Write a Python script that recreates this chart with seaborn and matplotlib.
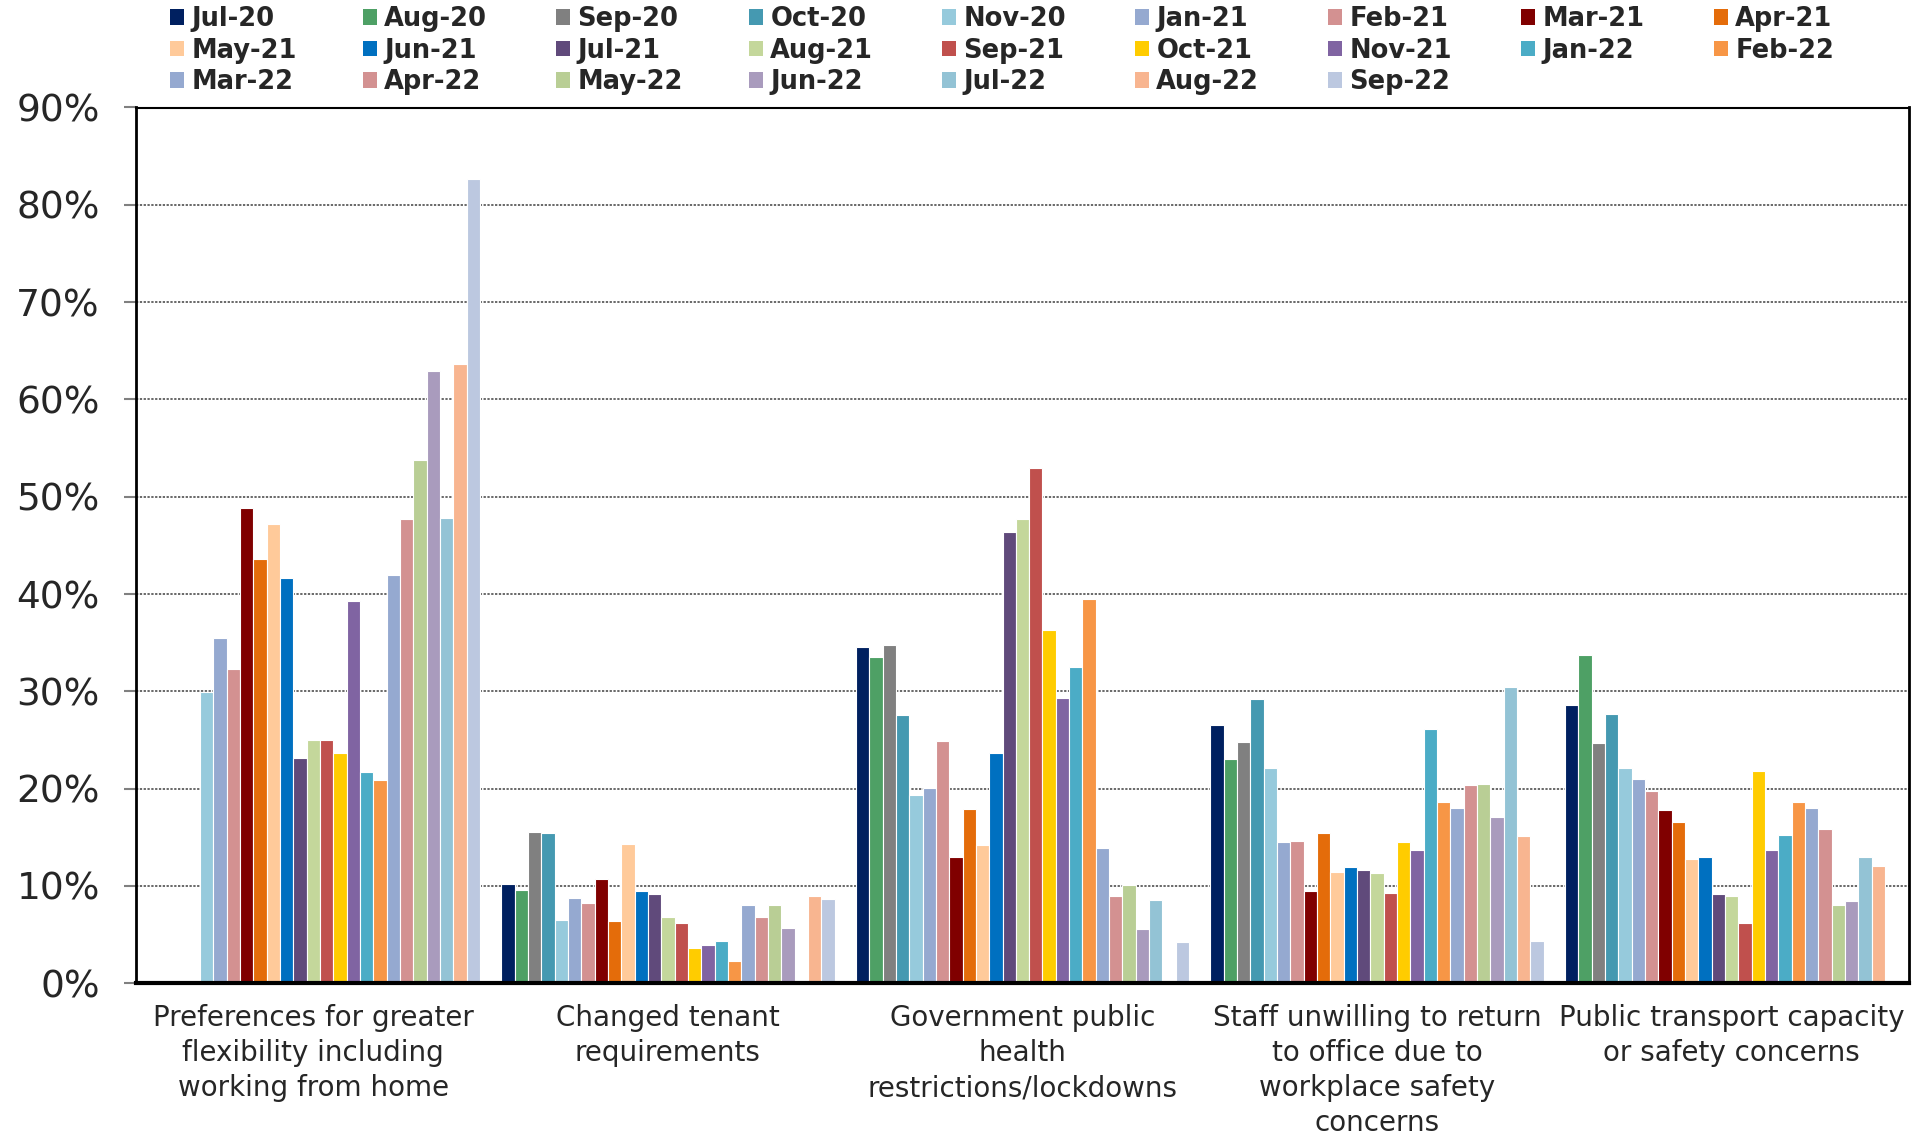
import numpy as np
import pandas as pd
import matplotlib
matplotlib.use("Agg")
import matplotlib.pyplot as plt
from matplotlib.patches import Patch
from matplotlib.ticker import FuncFormatter
import seaborn as sns

nan = np.nan

months = ["Jul-20", "Aug-20", "Sep-20", "Oct-20", "Nov-20", "Jan-21", "Feb-21", "Mar-21", "Apr-21",
          "May-21", "Jun-21", "Jul-21", "Aug-21", "Sep-21", "Oct-21", "Nov-21", "Jan-22", "Feb-22",
          "Mar-22", "Apr-22", "May-22", "Jun-22", "Jul-22", "Aug-22", "Sep-22"]

colors = ["#002060", "#4EA065", "#808080", "#4599B1", "#96CADC", "#95A9D0", "#D39191", "#800000",
          "#E46C0A", "#FFCA9A", "#0070C0", "#604A7B", "#C4D79B", "#C0504D", "#FFCC00", "#8064A2",
          "#4BACC6", "#F79646", "#95A9D0", "#D39191", "#B9CE95", "#A99BBD", "#93C3D5", "#F8B590",
          "#BCC8E0"]

categories = ["Preferences for greater\nflexibility including\nworking from home",
              "Changed tenant\nrequirements",
              "Government public\nhealth\nrestrictions/lockdowns",
              "Staff unwilling to return\nto office due to\nworkplace safety\nconcerns",
              "Public transport capacity\nor safety concerns"]

pref = [nan, nan, nan, nan, 29.9, 35.5, 32.3, 48.8, 43.6, 47.2, 41.6, 23.2, 25.0, 25.0, 23.7, 39.3,
        21.7, 20.9, 42.0, 47.7, 53.8, 62.9, 47.8, 63.6, 82.7]
tenant = [10.2, 9.6, 15.5, 15.4, 6.5, 8.8, 8.3, 10.7, 6.4, 14.3, 9.5, 9.2, 6.8, 6.2, 3.6, 3.9,
          4.3, 2.3, 8.0, 6.8, 8.0, 5.7, nan, 9.0, 8.7]
govt = [34.6, 33.5, 34.8, 27.6, 19.4, 20.1, 24.9, 13.0, 17.9, 14.2, 23.7, 46.4, 47.7, 53.0, 36.3,
        29.3, 32.5, 39.5, 13.9, 9.0, 10.1, 5.6, 8.6, nan, 4.2]
staff = [26.5, 23.0, 24.8, 29.2, 22.1, 14.5, 14.6, 9.5, 15.4, 11.4, 11.9, 11.6, 11.3, 9.3, 14.5,
         13.7, 26.1, 18.6, 18.0, 20.4, 20.5, 17.1, 30.4, 15.1, 4.3]
transport = [28.6, 33.7, 24.7, 27.7, 22.1, 21.0, 19.8, 17.8, 16.6, 12.8, 13.0, 9.2, 9.0, 6.2, 21.8,
             13.7, 15.2, 18.6, 18.0, 15.9, 8.0, 8.5, 13.0, 12.1, nan]

yticks = [0, 10, 20, 30, 40, 50, 60, 70, 80, 90]

rows = []
for cat, vals in zip(categories, [pref, tenant, govt, staff, transport]):
    for m, v in zip(months, vals):
        rows.append({"category": cat, "month": m, "value": v})
df = pd.DataFrame(rows)

sns.set_style("white")
plt.rcParams["font.family"] = ["DejaVu Sans"]

W, H = 1924, 1137
fig = plt.figure(figsize=(W / 100, H / 100), dpi=100)
ax = fig.add_axes([136 / W, 1 - 983.3 / H, (1909 - 136) / W, (983.3 - 107.5) / H])

sns.barplot(data=df, x="category", y="value", hue="month", order=categories, hue_order=months,
            palette=colors, width=0.94, gap=0, edgecolor="white", linewidth=0.8,
            errorbar=None, legend=False, ax=ax, saturation=1)

ax.set_xlim(-0.5, 4.5)
ax.set_ylim(0, 90)
ax.set_yticks(yticks)
ax.yaxis.set_major_formatter(FuncFormatter(lambda v, p: f"{v:.0f}%"))
ax.set_xlabel("")
ax.set_ylabel("")
ax.yaxis.grid(True, linestyle=(0, (1.5, 1)), color="#404040", linewidth=1.1)
ax.xaxis.grid(False)
ax.set_axisbelow(True)

ax.tick_params(axis="y", labelsize=27, length=9, width=1.5, color="#808080", pad=17,
               direction="out", left=True)
ax.tick_params(axis="x", labelsize=20, length=0, pad=15)
for lab in ax.get_xticklabels():
    lab.set_linespacing(1.32)
    lab.set_ha("center")

for side in ["left", "right", "top"]:
    ax.spines[side].set_color("black")
    ax.spines[side].set_linewidth(2)
ax.spines["top"].set_linewidth(1.5)
ax.spines["bottom"].set_color("black")
ax.spines["bottom"].set_linewidth(3)

# Legend: 9 columns, row-major order, one legend per column for even spacing
fs = 18.5
for c in range(9):
    idx = [i for i in range(c, len(months), 9)]
    handles = [Patch(facecolor=colors[i], edgecolor="none") for i in idx]
    labels = [months[i] for i in idx]
    fig.legend(handles, labels, loc="upper left",
               bbox_to_anchor=((170 + 193 * c) / W, 1 - 6 / H),
               frameon=False, borderpad=0, borderaxespad=0,
               handlelength=0.55, handleheight=0.55, handletextpad=0.28,
               labelspacing=0.22, prop={"size": fs, "weight": "bold"})

fig.savefig("out.png", dpi=100)
